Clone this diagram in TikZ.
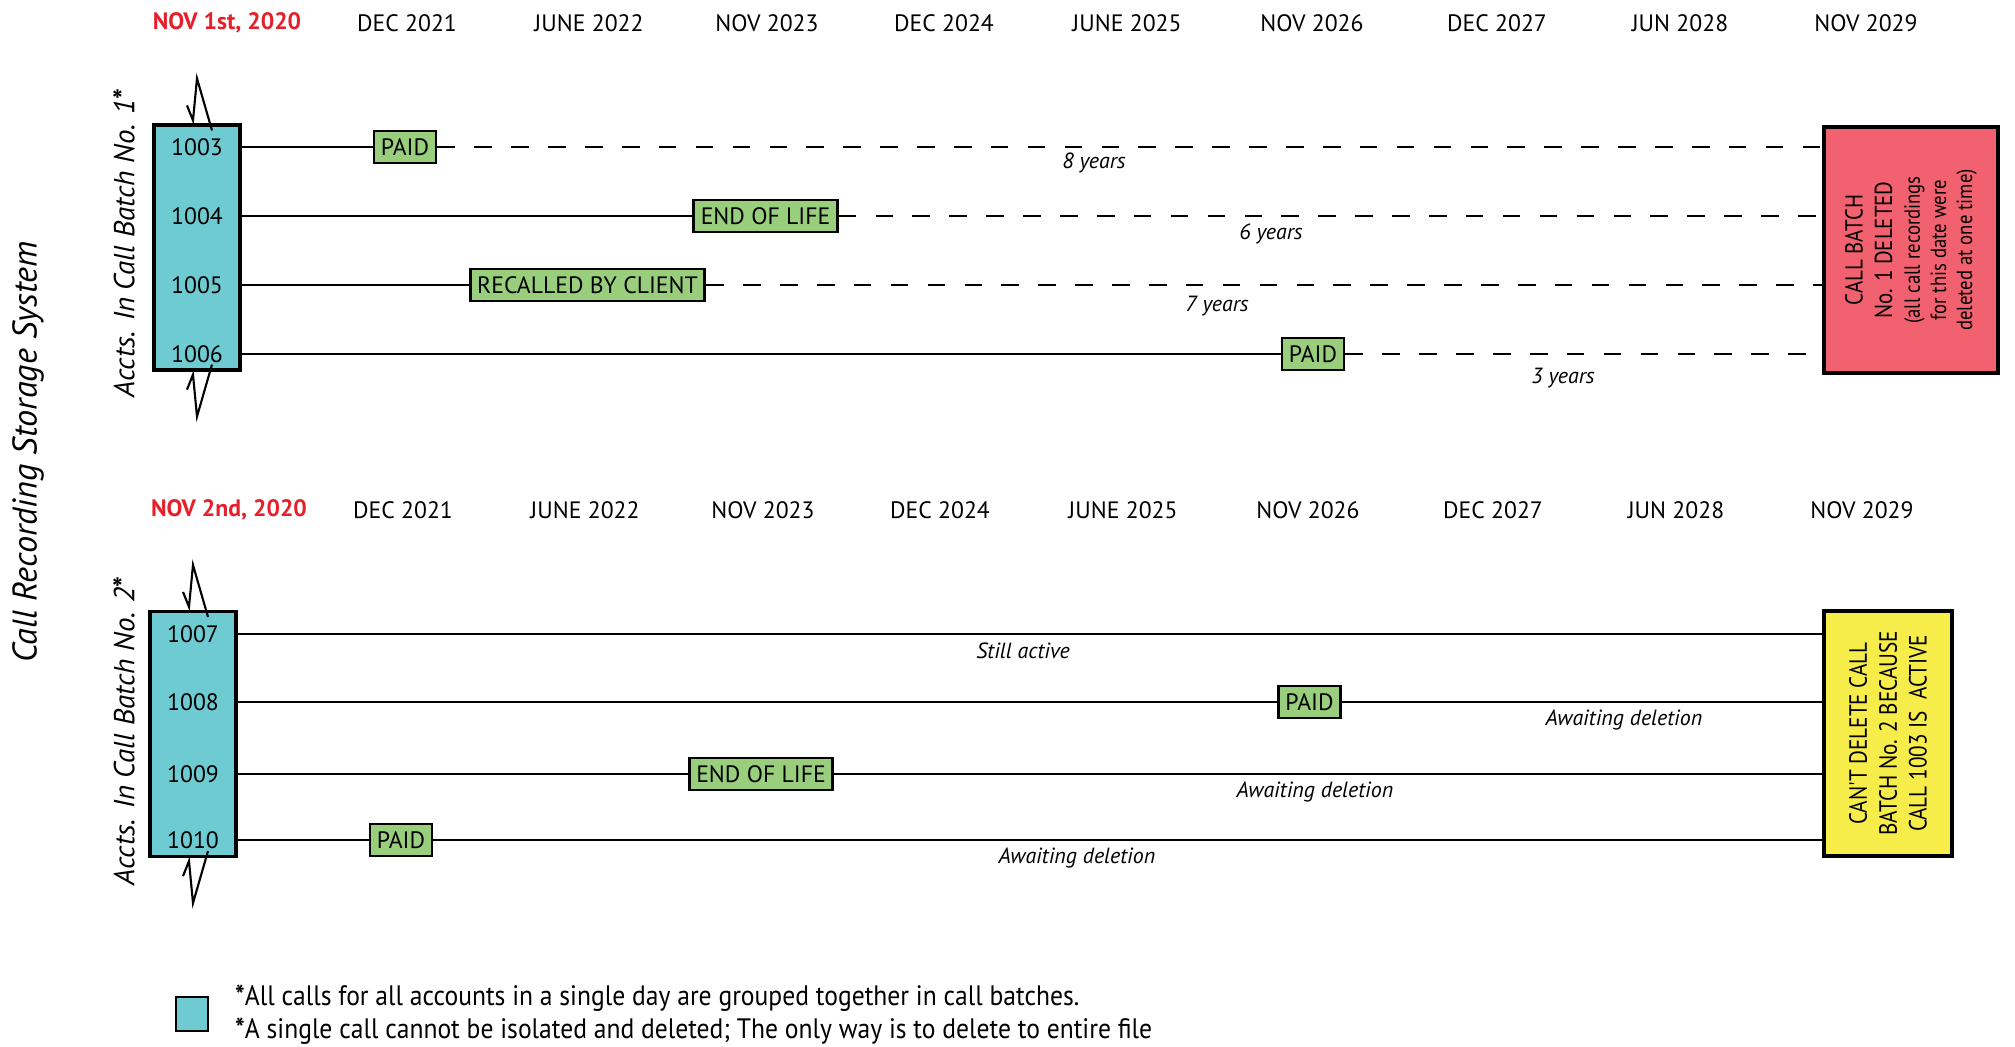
\documentclass[tikz,border=0pt]{standalone}
\usepackage{fontspec}
\setmainfont{PT Sans}
\newfontfamily\narrowfont[FakeStretch=0.91]{PT Sans}
\newfontfamily\boxfont[FakeStretch=0.85]{PT Sans}
\usetikzlibrary{positioning}
\definecolor{acctcyan}{HTML}{6ECBD1}
\definecolor{markgreen}{HTML}{98CE7C}
\definecolor{delred}{HTML}{F1616F}
\definecolor{waityellow}{HTML}{F6EC4A}
\definecolor{datered}{HTML}{E5202B}

\begin{document}
\begin{tikzpicture}[x=0.02cm,y=-0.02cm,
  font=\fontsize{13.5}{16}\selectfont,
  batch/.style={draw,line width=1.8pt,fill=acctcyan,minimum width=1.72cm,minimum height=4.9cm},
  tag/.style={draw,line width=1.6pt,fill=markgreen,inner xsep=4pt,inner ysep=0pt,minimum height=0.64cm},
  rowline/.style={line width=1.6pt},
  waitline/.style={line width=1.6pt,dash pattern=on 10pt off 11pt},
  note/.style={font=\fontsize{12.5}{15}\selectfont\itshape},
  zig/.style={line width=1.2pt,line join=miter}]
\useasboundingbox (0,0) rectangle (2015,1046);

% dates
\node[font=\fontsize{13.5}{16}\selectfont\bfseries,text=datered] (start1) at (227,23) {NOV 1st, 2020};
\node[font=\fontsize{13.5}{16}\selectfont\bfseries,text=datered] (start2) at (229,510) {NOV 2nd, 2020};
\foreach \x/\lab in {407/DEC 2021,589/JUNE 2022,767/NOV 2023,944/DEC 2024,1127/JUNE 2025,
  1312/NOV 2026,1497/DEC 2027,1680/JUN 2028,1866/NOV 2029}{
  \node (ta\x) at (\x,23) {\lab};
  \node (tb\x) at (\x-4,510) {\lab};}

% side titles
\node[rotate=90,font=\fontsize{19.5}{22}\selectfont\itshape] (title) at (28,452) {Call Recording Storage System};
\node[rotate=90,font=\fontsize{16.5}{19}\selectfont\itshape] (lab1) at (124,243) {Accts. In Call Batch No. 1\textup{\textbf{*}}};
\node[rotate=90,font=\fontsize{16.5}{19}\selectfont\itshape] (lab2) at (124,731) {Accts. In Call Batch No. 2\textup{\textbf{*}}};

% batch boxes
\node[batch] (batch1) at (197,247.5) {};
\node[batch] (batch2) at (193,734) {};
\foreach \b in {batch1,batch2}{
  \draw[zig] ([shift={(-10,-18)}]\b.north) -- ++(6,15) -- ++(4,-42) -- ++(15,52);
  \draw[zig] ([shift={(-10,18)}]\b.south) -- ++(6,-15) -- ++(4,42) -- ++(15,-52);}
\foreach \n/\y in {1003/147,1004/216,1005/285,1006/354}{\node (n\n) at (197,\y) {\n};}
\foreach \n/\y in {1007/634,1008/702,1009/774,1010/840}{\node (n\n) at (193,\y) {\n};}

% end boxes
\node[draw,line width=1.8pt,fill=delred,minimum width=3.48cm,minimum height=4.92cm] (del1) at (1911,250) {};
\node[rotate=90,align=center,font=\fontsize{12.5}{14.8}\selectfont\boxfont] (del1txt) at (del1.center)
  {{\fontsize{14}{17}\selectfont CALL BATCH}\\[2pt]{\fontsize{14}{17}\selectfont No. 1 DELETED}\\[1pt](all call recordings\\for this date were\\deleted at one time)};
\node[draw,line width=1.8pt,fill=waityellow,minimum width=2.56cm,minimum height=4.9cm] (del2) at (1888,733.5) {};
\node[rotate=90,align=center,font=\fontsize{14.2}{17}\selectfont\boxfont] (del2txt) at (del2.center)
  {CAN'T DELETE CALL\\BATCH No. 2 BECAUSE\\CALL 1003 IS~ ACTIVE};

% batch 1 rows
\node[tag] (paid3) at (405,147) {PAID};
\node[tag] (eol4) at (765.5,216) {END OF LIFE};
\node[tag] (rec5) at (587.5,285) {RECALLED BY CLIENT};
\node[tag] (paid6) at (1313,354) {PAID};
\draw[rowline] (batch1.east |- n1003) -- (paid3.west);
\draw[rowline] (batch1.east |- n1004) -- (eol4.west);
\draw[rowline] (batch1.east |- n1005) -- (rec5.west);
\draw[rowline] (batch1.east |- n1006) -- (paid6.west);
\draw[waitline] (paid3.east) -- (del1.west |- paid3);
\draw[waitline] (eol4.east) -- (del1.west |- eol4);
\draw[waitline] (rec5.east) -- (del1.west |- rec5);
\draw[waitline] (paid6.east) -- (del1.west |- paid6);
\node[note] (yr3) at (1094,163) {8 years};
\node[note] (yr4) at (1271,234) {6 years};
\node[note] (yr5) at (1217,306) {7 years};
\node[note] (yr6) at (1563,378) {3 years};

% batch 2 rows
\node[tag] (paid8) at (1309.5,702) {PAID};
\node[tag] (eol9) at (761,774) {END OF LIFE};
\node[tag] (paid10) at (401,840) {PAID};
\draw[rowline] (batch2.east |- n1007) -- (del2.west |- n1007);
\draw[rowline] (batch2.east |- n1008) -- (paid8.west);
\draw[rowline] (paid8.east) -- (del2.west |- paid8);
\draw[rowline] (batch2.east |- n1009) -- (eol9.west);
\draw[rowline] (eol9.east) -- (del2.west |- eol9);
\draw[rowline] (batch2.east |- n1010) -- (paid10.west);
\draw[rowline] (paid10.east) -- (del2.west |- paid10);
\node[note] (st7) at (1023,651) {Still active};
\node[note] (st8) at (1624,720) {Awaiting deletion};
\node[note] (st9) at (1315,792) {Awaiting deletion};
\node[note] (st10) at (1077,858) {Awaiting deletion};

% legend
\node[draw,line width=1.6pt,fill=acctcyan,minimum width=0.64cm,minimum height=0.68cm] (key) at (192,1014) {};
\node[anchor=west,font=\fontsize{16}{19}\selectfont\narrowfont] (foot1) at (229,998)
  {\textbf{*}All calls for all accounts in a single day are grouped together in call batches.};
\node[anchor=west,font=\fontsize{16}{19}\selectfont\narrowfont] (foot2) at (229,1031)
  {\textbf{*}A single call cannot be isolated and deleted; The only way is to delete to entire file};
\end{tikzpicture}
\end{document}
